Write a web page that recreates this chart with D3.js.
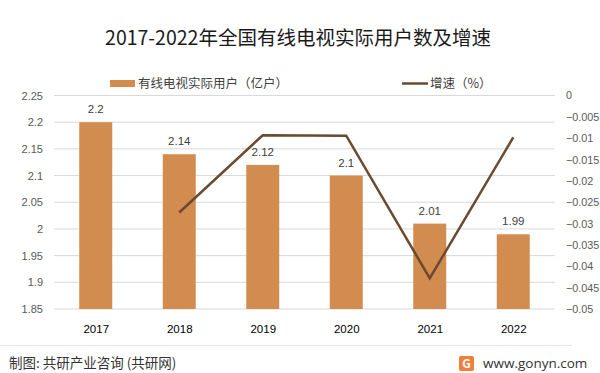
<!DOCTYPE html>
<html>
<head>
<meta charset="utf-8">
<script src="https://cdn.jsdelivr.net/npm/d3@7"></script>
<style>
  body { margin: 0; background: #fff; }
  svg { display: block; font-family: "Noto Sans CJK SC", "Open Sans", sans-serif; }
</style>
</head>
<body>
<div id="chart"></div>
<script>
var years = ["2017", "2018", "2019", "2020", "2021", "2022"];
var users = [2.2, 2.14, 2.12, 2.1, 2.01, 1.99];
var growthYears = ["2018", "2019", "2020", "2021", "2022"];
var growth = [-0.0274, -0.0093, -0.0094, -0.0428, -0.0098];
var leftTicks = [1.85, 1.9, 1.95, 2, 2.05, 2.1, 2.15, 2.2, 2.25];
var rightTicks = [0, -0.005, -0.01, -0.015, -0.02, -0.025, -0.03, -0.035, -0.04, -0.045, -0.05];

var width = 600, height = 373;
var plotLeft = 54, plotRight = 555, plotTop = 95.5, plotBottom = 309;
var numFont = "'Liberation Sans', Arial, sans-serif";

var svg = d3.select("#chart").append("svg")
  .attr("width", width)
  .attr("height", height);

// scales
var xc = d3.scalePoint().domain(years).range([plotLeft + 41.75, plotRight - 41.75]);
var yL = d3.scaleLinear().domain([1.85, 2.25]).range([plotBottom, plotTop]);
var yR = d3.scaleLinear().domain([-0.05, 0]).range([plotBottom, plotTop]);

// gridlines
svg.append("g").selectAll("line")
  .data(leftTicks)
  .enter().append("line")
  .attr("x1", plotLeft).attr("x2", plotRight)
  .attr("y1", d => yL(d)).attr("y2", d => yL(d))
  .attr("stroke", "#d9d9d9").attr("stroke-width", 1);

// left axis
var axL = svg.append("g")
  .attr("transform", "translate(43,0)")
  .call(d3.axisLeft(yL).tickValues(leftTicks).tickSize(0).tickPadding(0).tickFormat(d3.format("")));
axL.select(".domain").remove();
axL.selectAll("text").attr("fill", "#595959").style("font-size", "11px").style("font-family", numFont);

// right axis
var axR = svg.append("g")
  .attr("transform", "translate(566,0)")
  .call(d3.axisRight(yR).tickValues(rightTicks).tickSize(0).tickPadding(0).tickFormat(d3.format("")));
axR.select(".domain").remove();
axR.selectAll("text").attr("fill", "#595959").style("font-size", "10.8px").style("font-family", numFont);

// bottom axis
var axB = svg.append("g")
  .attr("transform", "translate(0," + (plotBottom + 13) + ")")
  .call(d3.axisBottom(xc).tickSize(0));
axB.select(".domain").remove();
axB.selectAll("text").attr("fill", "#000").style("font-size", "11.5px").style("font-family", numFont);

// bars
svg.append("g").selectAll("rect")
  .data(users)
  .enter().append("rect")
  .attr("x", (d, i) => xc(years[i]) - 16.5)
  .attr("width", 33)
  .attr("y", d => yL(d))
  .attr("height", d => plotBottom - yL(d))
  .attr("fill", "#d38c4f");

// bar labels
svg.append("g").selectAll("text")
  .data(users)
  .enter().append("text")
  .attr("x", (d, i) => xc(years[i]))
  .attr("y", d => yL(d) - 9)
  .attr("text-anchor", "middle")
  .attr("fill", "#404040")
  .style("font-size", "11.5px")
  .style("font-family", numFont)
  .text(d => d);

// growth line
var line = d3.line()
  .x((d, i) => xc(growthYears[i]))
  .y(d => yR(d));
svg.append("path")
  .datum(growth)
  .attr("d", line)
  .attr("fill", "none")
  .attr("stroke", "#6b4a2f")
  .attr("stroke-width", 2.5);

// title
svg.append("text")
  .attr("x", 298).attr("y", 45)
  .attr("text-anchor", "middle")
  .attr("fill", "#1a1a1a")
  .style("font-size", "19.5px")
  .text("2017-2022年全国有线电视实际用户数及增速");

// legend
svg.append("rect").attr("x", 110).attr("y", 80).attr("width", 25).attr("height", 7).attr("fill", "#d38c4f");
svg.append("text").attr("x", 138).attr("y", 88).attr("fill", "#404040").style("font-size", "12.5px")
  .text("有线电视实际用户（亿户）");
svg.append("line").attr("x1", 402).attr("x2", 428).attr("y1", 83.5).attr("y2", 83.5)
  .attr("stroke", "#6b4a2f").attr("stroke-width", 2.5);
svg.append("text").attr("x", 430).attr("y", 88).attr("fill", "#404040").style("font-size", "12.5px")
  .text("增速（%）");

// footer
svg.append("line").attr("x1", 0).attr("x2", 572).attr("y1", 345.5).attr("y2", 345.5)
  .attr("stroke", "#e6e6e6").attr("stroke-width", 1);
svg.append("text").attr("x", 9).attr("y", 368).attr("fill", "#333")
  .style("font-size", "13.5px")
  .text("制图: 共研产业咨询 (共研网)");
var logo = svg.append("g").attr("transform", "translate(459,356)");
logo.append("rect").attr("width", 15).attr("height", 15).attr("rx", 2).attr("fill", "#f07f3c");
logo.append("text").attr("x", 7.5).attr("y", 12).attr("text-anchor", "middle")
  .attr("fill", "#fff").style("font-size", "12px").style("font-weight", "bold").text("G");
svg.append("text").attr("x", 483).attr("y", 368).attr("fill", "#333")
  .style("font-size", "13.5px").style("font-family", "'Open Sans', sans-serif")
  .text("www.gonyn.com");
</script>
</body>
</html>
